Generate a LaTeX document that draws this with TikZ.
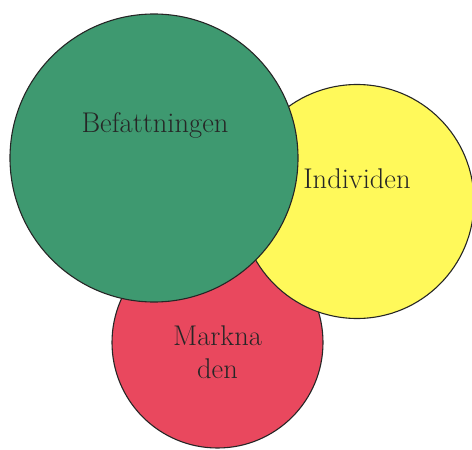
\documentclass[tikz,border=0pt]{standalone}
\begin{document}
\begin{tikzpicture}[x=1pt,y=-1pt,
  disc/.style={circle,draw=black!85,line width=1.1pt,inner sep=0pt},
  lbl/.style={font=\fontsize{28.5}{33}\selectfont,text=black!85,align=center}]
\definecolor{cgreen}{RGB}{62,153,112}
\definecolor{cyellow}{RGB}{255,249,90}
\definecolor{cred}{RGB}{233,72,94}
\useasboundingbox (0,0) rectangle (472,450);
\node[disc,fill=cred,minimum size=211pt] (red) at (217.5,342.5) {};
\node[disc,fill=cyellow,minimum size=234pt] (yellow) at (357,201.5) {};
\node[disc,fill=cgreen,minimum size=288pt] (green) at (154,158) {};
\node[lbl] (t1) at (155,125) {Befattningen};
\node[lbl] (t2) at (357,179) {Individen};
\node[lbl] (t3) at (217.5,352) {Markna\\den};
\end{tikzpicture}
\end{document}
